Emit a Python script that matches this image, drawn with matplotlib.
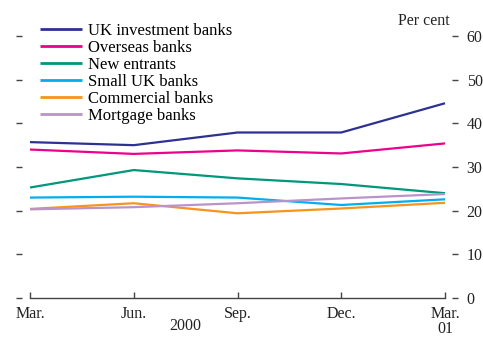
import matplotlib
matplotlib.use("Agg")
import matplotlib.pyplot as plt

# Quarters (Mar. 2000 to Mar. 2001)
quarters = ["Mar.", "Jun.", "Sep.", "Dec.", "Mar.\n01"]

# Per cent values
uk_investment = [35.7, 35.0, 37.9, 37.9, 44.6]
overseas = [34.0, 33.0, 33.8, 33.1, 35.4]
new_entrants = [25.3, 29.3, 27.4, 26.1, 24.0]
small_uk = [23.0, 23.2, 23.0, 21.3, 22.6]
commercial = [20.4, 21.7, 19.4, 20.5, 21.8]
mortgage = [20.3, 20.8, 21.7, 22.8, 23.8]

series = [
    ("UK investment banks", uk_investment, "#2e3192"),
    ("Overseas banks", overseas, "#ec008c"),
    ("New entrants", new_entrants, "#00977a"),
    ("Small UK banks", small_uk, "#00aeef"),
    ("Commercial banks", commercial, "#f7941d"),
    ("Mortgage banks", mortgage, "#bb93cb"),
]

plt.rcParams['font.family'] = ['Liberation Serif', 'DejaVu Serif']

W, H = 483, 337
fig = plt.figure(figsize=(W / 100, H / 100), dpi=100)

# axes placed in pixel terms
left_px, right_px, top_px, bot_px = 22, 452, 36, 298
ax = fig.add_axes([left_px / W, 1 - bot_px / H,
                   (right_px - left_px) / W, (bot_px - top_px) / H])

x = list(range(len(quarters)))
for name, vals, col in series:
    ax.plot(x, vals, color=col, lw=1.6, label=name, solid_capstyle='butt')

per_px = 4 / 415
ax.set_xlim(-(30 - left_px) * per_px, 4 + (right_px - 445) * per_px)
ax.set_ylim(0, 60)

for s in ['top', 'left', 'right']:
    ax.spines[s].set_visible(False)
ax.spines['bottom'].set_bounds(0, 4)
ax.spines['bottom'].set_color('#444444')
ax.spines['bottom'].set_linewidth(1.0)

ax.set_xticks(x)
ax.set_xticklabels(quarters, linespacing=0.95)
ax.tick_params(axis='x', direction='in', length=4, width=1.0, color='#444444',
               labelsize=11.5, pad=5.5, labelcolor='#222222')

ax.set_yticks(range(0, 61, 10))
ax.tick_params(axis='y', which='both', direction='out', length=4.5, width=1.0,
               color='#444444', left=True, right=True, labelleft=False,
               labelright=True, labelsize=11.5, pad=6, labelcolor='#222222')

ax.text(1.5, -6.5, "2000", ha='center', va='center', fontsize=11.5, color='#222222',
        clip_on=False)
ax.text(0.995, 1.025, "Per cent", transform=ax.transAxes, ha='right', va='bottom',
        fontsize=11.5, color='#222222')

leg = ax.legend(loc='upper left', bbox_to_anchor=(40 / W, 1 - 23 / H),
                bbox_transform=fig.transFigure, frameon=False, fontsize=12,
                handlelength=2.5, handletextpad=0.4, labelspacing=0.06,
                borderpad=0, borderaxespad=0)
for line in leg.get_lines():
    line.set_linewidth(2.0)

fig.savefig("out.png", dpi=100)
